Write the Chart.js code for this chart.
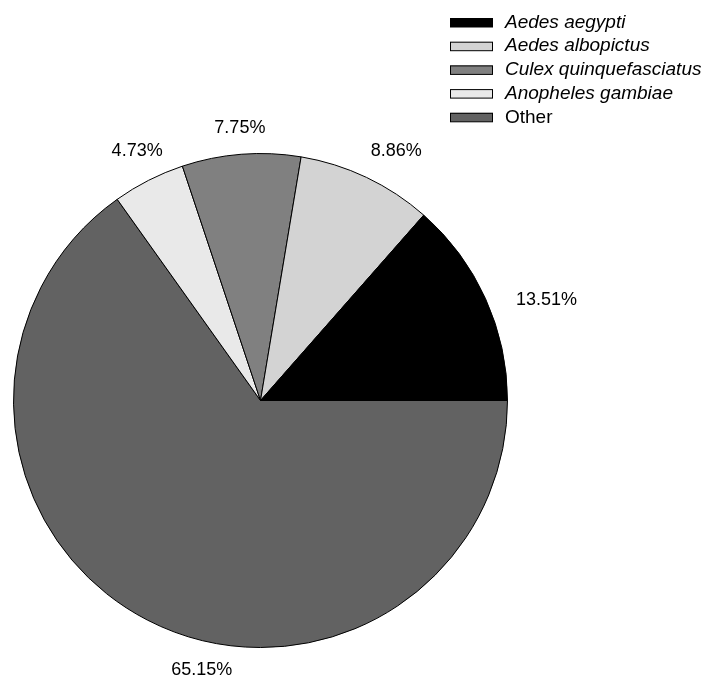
<!DOCTYPE html>
<html>
<head>
<meta charset="utf-8">
<script src="https://cdn.jsdelivr.net/npm/chart.js@4/dist/chart.umd.min.js"></script>
<style>
  html, body { margin: 0; padding: 0; background: #fff; }
  canvas { display: block; }
</style>
</head>
<body>
<canvas id="pie" width="709" height="679"></canvas>
<script>
// species shares (percent), legend order
const species = ["Aedes aegypti", "Aedes albopictus", "Culex quinquefasciatus", "Anopheles gambiae", "Other"];
const shares = [13.51, 8.86, 7.75, 4.73, 65.15];

// styling
const fills = ["#000000", "#d3d3d3", "#808080", "#e9e9e9", "#626262"];
const italic = [true, true, true, true, false];
const labelNudge = [[34, 13], [17, 0], [1, 3], [2, -3], [68, 24]];

// slices run counter-clockwise from 3 o'clock, so feed them reversed
const order = species.map((_, i) => species.length - 1 - i);

const FONT = '"Liberation Sans", Arial, sans-serif';

const percentLabels = {
  id: "percentLabels",
  afterDatasetsDraw(chart) {
    const ctx = chart.ctx;
    const arcs = chart.getDatasetMeta(0).data;
    ctx.save();
    ctx.font = "18px " + FONT;
    ctx.fillStyle = "#000";
    ctx.textAlign = "center";
    ctx.textBaseline = "middle";
    arcs.forEach((arc, j) => {
      const i = order[j];
      const mid = (arc.startAngle + arc.endAngle) / 2;
      const r = arc.outerRadius * 1.12;
      const x = arc.x + Math.cos(mid) * r + labelNudge[i][0];
      const y = arc.y + Math.sin(mid) * r + labelNudge[i][1];
      ctx.fillText(shares[i].toFixed(2) + "%", x, y);
    });
    ctx.restore();
  }
};

const boxLegend = {
  id: "boxLegend",
  afterDraw(chart) {
    const ctx = chart.ctx;
    ctx.save();
    ctx.textBaseline = "middle";
    ctx.textAlign = "left";
    species.forEach((name, i) => {
      const cy = 22.5 + i * 23.7;
      ctx.fillStyle = fills[i];
      ctx.fillRect(450, cy - 4.5, 43, 9);
      ctx.strokeStyle = "#000";
      ctx.lineWidth = 1;
      ctx.strokeRect(450.5, cy - 4, 42, 8.5);
      ctx.fillStyle = "#000";
      ctx.font = (italic[i] ? "italic " : "") + "19px " + FONT;
      ctx.fillText(name, 505, cy);
    });
    ctx.restore();
  }
};

new Chart(document.getElementById("pie"), {
  type: "pie",
  data: {
    labels: order.map(i => species[i]),
    datasets: [{
      data: order.map(i => shares[i]),
      backgroundColor: order.map(i => fills[i]),
      borderColor: "#000",
      borderWidth: 1
    }]
  },
  options: {
    responsive: false,
    animation: false,
    devicePixelRatio: 1,
    rotation: 90,
    layout: { padding: { left: 13, right: 201, top: 153, bottom: 31 } },
    plugins: {
      legend: { display: false },
      tooltip: { enabled: false }
    }
  },
  plugins: [percentLabels, boxLegend]
});
</script>
</body>
</html>
